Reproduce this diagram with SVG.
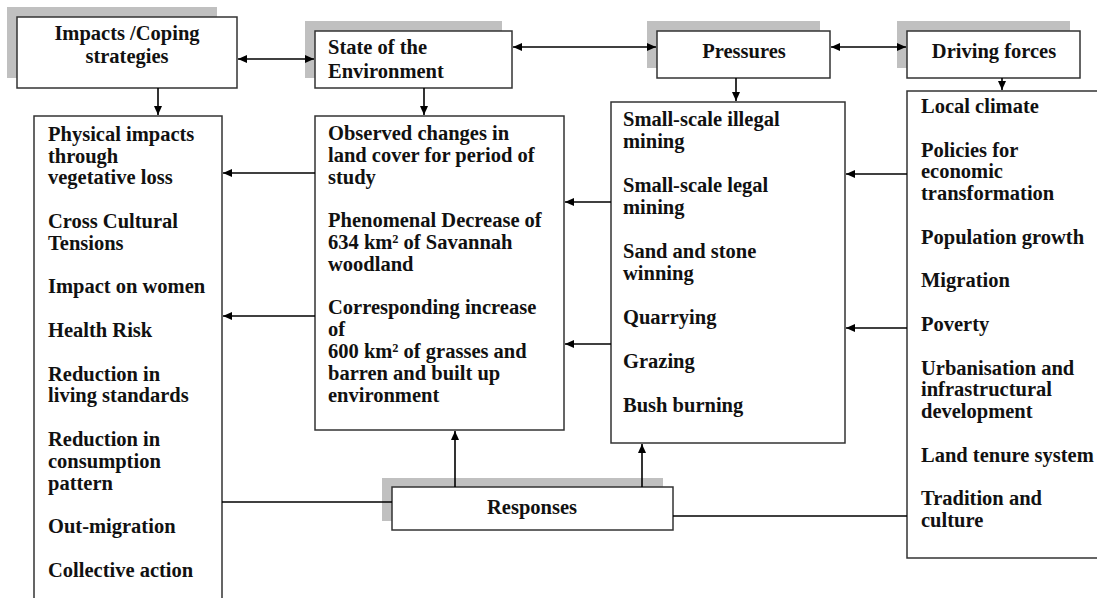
<svg xmlns="http://www.w3.org/2000/svg" width="1097" height="598" viewBox="0 0 1097 598">
<defs>
<marker id="ah" markerUnits="userSpaceOnUse" markerWidth="10" markerHeight="8" refX="9" refY="4" orient="auto-start-reverse">
<path d="M0,0 L9,4 L0,8 z" fill="#000"/>
</marker>
<style>
.sh{fill:#c0c0c0;stroke:none}
.bx{fill:#fff;stroke:#333;stroke-width:1.5}
.ob{fill:none;stroke:#333;stroke-width:1.5}
.t{font-family:"Liberation Serif","Times New Roman",serif;font-weight:bold;font-size:20.5px;fill:#111}
.c{text-anchor:middle}
.ln{fill:none;stroke:#000;stroke-width:1.6}
.ar{fill:none;stroke:#000;stroke-width:1.6;marker-end:url(#ah)}
.da{fill:none;stroke:#000;stroke-width:1.6;marker-end:url(#ah);marker-start:url(#ah)}
</style>
</defs>
<rect width="1097" height="598" fill="#fff"/>

<g id="impacts-header">
<rect class="sh" x="7" y="7" width="210" height="71"/>
<rect class="bx" x="17" y="17" width="220" height="71"/>
<text class="t c" x="127" y="40">Impacts /Coping</text>
<text class="t c" x="127" y="63">strategies</text>
</g>

<g id="state-header">
<rect class="sh" x="305" y="21" width="197" height="57"/>
<rect class="bx" x="315" y="31" width="197" height="57"/>
<text class="t" x="328" y="54">State of the</text>
<text class="t" x="328" y="78">Environment</text>
</g>

<g id="pressures-header">
<rect class="sh" x="647" y="21" width="173" height="47"/>
<rect class="bx" x="657" y="31" width="173" height="47"/>
<text class="t c" x="744" y="58">Pressures</text>
</g>

<g id="driving-header">
<rect class="sh" x="897" y="21" width="173" height="47"/>
<rect class="bx" x="907" y="31" width="173" height="47"/>
<text class="t c" x="994" y="58">Driving forces</text>
</g>

<g id="impacts-list">
<path class="ob" d="M34,600 V116 H222 V600"/>
<text class="t" x="48" y="140.7">Physical impacts</text>
<text class="t" x="48" y="162.5">through</text>
<text class="t" x="48" y="184.3">vegetative loss</text>
<text class="t" x="48" y="227.9">Cross Cultural</text>
<text class="t" x="48" y="249.7">Tensions</text>
<text class="t" x="48" y="293.3">Impact on women</text>
<text class="t" x="48" y="336.9">Health Risk</text>
<text class="t" x="48" y="380.5">Reduction in</text>
<text class="t" x="48" y="402.3">living standards</text>
<text class="t" x="48" y="445.9">Reduction in</text>
<text class="t" x="48" y="467.7">consumption</text>
<text class="t" x="48" y="489.5">pattern</text>
<text class="t" x="48" y="533.1">Out-migration</text>
<text class="t" x="48" y="576.7">Collective action</text>
</g>

<g id="state-list">
<rect class="bx" x="315" y="116" width="249" height="314"/>
<text class="t" x="328" y="140">Observed changes in</text>
<text class="t" x="328" y="161.8">land cover for period of</text>
<text class="t" x="328" y="183.6">study</text>
<text class="t" x="328" y="227.2">Phenomenal Decrease of</text>
<text class="t" x="328" y="249">634 km² of Savannah</text>
<text class="t" x="328" y="270.8">woodland</text>
<text class="t" x="328" y="314.4">Corresponding increase</text>
<text class="t" x="328" y="336.2">of</text>
<text class="t" x="328" y="358">600 km² of grasses and</text>
<text class="t" x="328" y="379.8">barren and built up</text>
<text class="t" x="328" y="401.6">environment</text>
</g>

<g id="pressures-list">
<rect class="bx" x="611" y="102" width="234" height="341"/>
<text class="t" x="623" y="126">Small-scale illegal</text>
<text class="t" x="623" y="148">mining</text>
<text class="t" x="623" y="192">Small-scale legal</text>
<text class="t" x="623" y="214">mining</text>
<text class="t" x="623" y="258">Sand and stone</text>
<text class="t" x="623" y="280">winning</text>
<text class="t" x="623" y="324">Quarrying</text>
<text class="t" x="623" y="368">Grazing</text>
<text class="t" x="623" y="412">Bush burning</text>
</g>

<g id="driving-list">
<path class="ob" d="M1100,91 H907 V558 H1100"/>
<text class="t" x="921" y="113">Local climate</text>
<text class="t" x="921" y="156.6">Policies for</text>
<text class="t" x="921" y="178.4">economic</text>
<text class="t" x="921" y="200.2">transformation</text>
<text class="t" x="921" y="243.8">Population growth</text>
<text class="t" x="921" y="287.4">Migration</text>
<text class="t" x="921" y="331">Poverty</text>
<text class="t" x="921" y="374.6">Urbanisation and</text>
<text class="t" x="921" y="396.4">infrastructural</text>
<text class="t" x="921" y="418.2">development</text>
<text class="t" x="921" y="461.8">Land tenure system</text>
<text class="t" x="921" y="505.4">Tradition and</text>
<text class="t" x="921" y="527.2">culture</text>
</g>

<g id="responses">
<rect class="sh" x="382" y="478" width="281" height="43"/>
<rect class="bx" x="392" y="487" width="281" height="43"/>
<text class="t c" x="532" y="514">Responses</text>
</g>

<g id="connectors">
<line class="da" x1="238" y1="59" x2="314" y2="59"/>
<line class="da" x1="513" y1="47" x2="656" y2="47"/>
<line class="da" x1="831" y1="47" x2="906" y2="47"/>
<line class="ar" x1="158" y1="88" x2="158" y2="115"/>
<line class="ar" x1="424" y1="88" x2="424" y2="115"/>
<line class="ar" x1="736" y1="78" x2="736" y2="101"/>
<line class="ar" x1="1002" y1="78" x2="1002" y2="90"/>
<line class="ar" x1="315" y1="173" x2="223" y2="173"/>
<line class="ar" x1="315" y1="316" x2="223" y2="316"/>
<line class="ar" x1="611" y1="202" x2="565" y2="202"/>
<line class="ar" x1="611" y1="344" x2="565" y2="344"/>
<line class="ar" x1="907" y1="174" x2="846" y2="174"/>
<line class="ar" x1="907" y1="328" x2="846" y2="328"/>
<line class="ar" x1="455" y1="487" x2="455" y2="431"/>
<line class="ar" x1="642" y1="487" x2="642" y2="444"/>
<line class="ln" x1="222" y1="502" x2="392" y2="502"/>
<line class="ln" x1="673" y1="516" x2="907" y2="516"/>
</g>
</svg>
